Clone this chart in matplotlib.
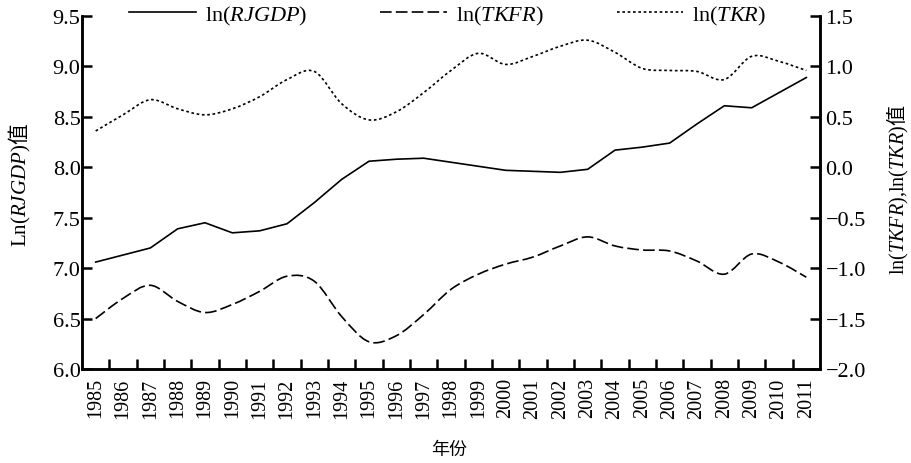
import numpy as np
import matplotlib
matplotlib.use('Agg')
import matplotlib.pyplot as plt
from matplotlib.path import Path
from matplotlib.patches import PathPatch
from matplotlib.lines import Line2D

plt.rcParams['font.family'] = ['Liberation Serif', 'Noto Sans CJK SC']
plt.rcParams['mathtext.fontset'] = 'custom'
plt.rcParams['mathtext.rm'] = 'Liberation Serif'
plt.rcParams['mathtext.it'] = 'Liberation Serif:italic'
plt.rcParams['mathtext.sf'] = 'Noto Sans CJK SC'

# data
years = list(range(1985, 2012))
ln_rjgdp = [7.06, 7.13, 7.20, 7.39, 7.45, 7.35, 7.37, 7.44, 7.65, 7.88, 8.06, 8.08, 8.09,
            8.05, 8.01, 7.97, 7.96, 7.95, 7.98, 8.17, 8.20, 8.24, 8.43, 8.61, 8.59, 8.74, 8.89]
ln_tkfr = [-1.50, -1.30, -1.17, -1.33, -1.44, -1.36, -1.23, -1.08, -1.13, -1.48, -1.73, -1.67, -1.46,
           -1.21, -1.06, -0.96, -0.89, -0.78, -0.69, -0.78, -0.82, -0.83, -0.93, -1.06, -0.86, -0.94, -1.09]
ln_tkr = [0.36, 0.52, 0.67, 0.58, 0.52, 0.58, 0.70, 0.87, 0.95, 0.63, 0.47, 0.55, 0.74,
          0.96, 1.13, 1.02, 1.10, 1.20, 1.26, 1.14, 0.98, 0.96, 0.95, 0.87, 1.10, 1.05, 0.96]


def smooth_path(x, y):
    # bezier through the points, like a spreadsheet "smoothed line"
    x = np.asarray(x, float)
    y = np.asarray(y, float)
    px = np.concatenate(([x[0]], x, [x[-1]]))
    py = np.concatenate(([y[0]], y, [y[-1]]))
    verts = [(x[0], y[0])]
    codes = [Path.MOVETO]
    for i in range(len(x) - 1):
        c1 = (x[i] + (px[i + 2] - px[i]) / 6, y[i] + (py[i + 2] - py[i]) / 6)
        c2 = (x[i + 1] - (px[i + 3] - px[i + 1]) / 6, y[i + 1] - (py[i + 3] - py[i + 1]) / 6)
        verts += [c1, c2, (x[i + 1], y[i + 1])]
        codes += [Path.CURVE4] * 3
    return Path(verts, codes)


pos = np.arange(len(years))
lw = 1.2
dash = (0, (7, 2.5))
dot = (0, (1.6, 1.6))

fig = plt.figure(figsize=(9.12, 4.64), dpi=100)
ax = fig.add_axes([82 / 912, 94 / 464, 738 / 912, 353 / 464])
ax2 = ax.twinx()

ax.plot(pos, ln_rjgdp, color='black', lw=lw)
ax2.add_patch(PathPatch(smooth_path(pos, ln_tkfr), fill=False, ec='black', lw=lw, ls=dash))
ax2.add_patch(PathPatch(smooth_path(pos, ln_tkr), fill=False, ec='black', lw=lw, ls=dot))

ax.set_xlim(-0.5, len(years) - 0.5)
ax.set_ylim(6.0, 9.5)
ax2.set_ylim(-2.0, 1.5)
ax.set_yticks(np.arange(6.0, 9.51, 0.5))
ax.set_yticklabels([f'{v:.1f}' for v in np.arange(6.0, 9.51, 0.5)])
ax2.set_yticks(np.arange(-2.0, 1.51, 0.5))
ax2.set_yticklabels([f'{v:.1f}'.replace('-', '\u2212') for v in np.arange(-2.0, 1.51, 0.5)])

ax.set_xticks(pos)
ax.set_xticklabels([str(y) for y in years], rotation=90, fontsize=14.5)
ax.set_xticks(pos[:-1] + 0.5, minor=True)
ax.tick_params(axis='x', which='major', length=0, pad=6)
ax.tick_params(axis='x', which='minor', direction='in', length=7, width=1.8)
ax.tick_params(axis='y', direction='in', length=7, width=1.8, labelsize=16, pad=1)
ax2.tick_params(axis='y', direction='in', length=7, width=1.8, labelsize=16, pad=4)

for a in (ax, ax2):
    a.spines['top'].set_visible(False)
    for s in ('left', 'right', 'bottom'):
        a.spines[s].set_linewidth(1.8)

ax.set_ylabel(r'$\mathrm{Ln}(\mathit{RJGDP})\mathsf{值}$', fontsize=15)
ax.yaxis.set_label_coords(-0.066, 0.525)
ax2.set_ylabel(r'$\mathrm{ln}(\mathit{TKFR}){,}\mathrm{ln}(\mathit{TKR})\mathsf{值}$', fontsize=14.5)
ax2.yaxis.set_label_coords(1.088, 0.51)
ax.set_xlabel('年份', fontsize=13, family='Noto Sans CJK SC')
ax.xaxis.set_label_coords(0.497, -0.2)

handles = [Line2D([], [], color='black', lw=lw),
           Line2D([], [], color='black', lw=lw, ls=dash),
           Line2D([], [], color='black', lw=lw, ls=dot)]
labels = [r'$\mathrm{ln}(\mathit{RJGDP})$', r'$\mathrm{ln}(\mathit{TKFR})$', r'$\mathrm{ln}(\mathit{TKR})$']
fig.legend(handles, labels, ncol=3, frameon=False, fontsize=16, handlelength=3.0,
           handletextpad=0.4, columnspacing=3.3, loc='center left',
           bbox_to_anchor=(129 / 912, 1 - 16 / 464), borderaxespad=0, borderpad=0)

fig.savefig('out.png', dpi=100)
